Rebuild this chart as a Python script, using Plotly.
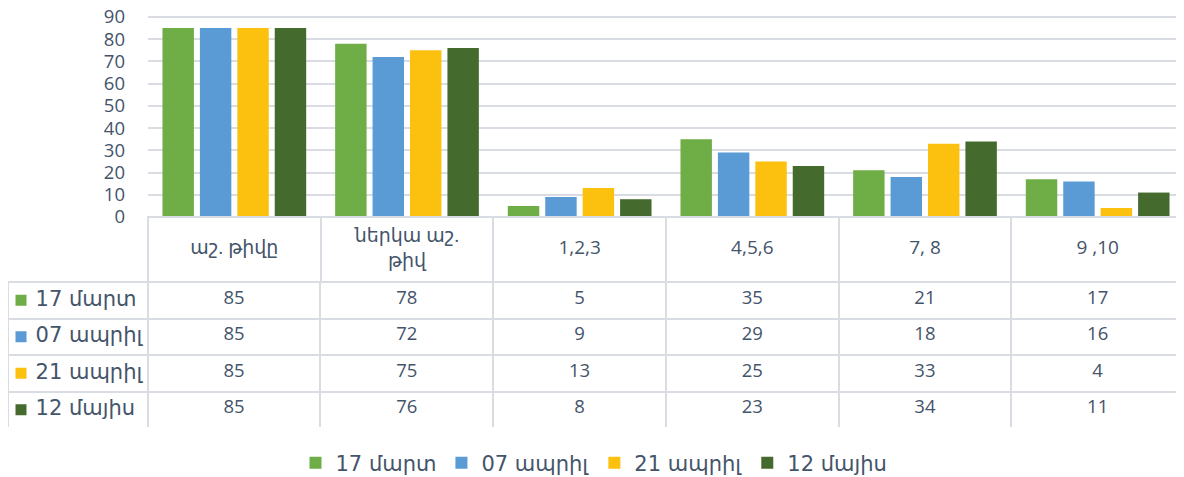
import plotly.graph_objects as go

categories = ["աշ. թիվը", "ներկա աշ.<br>թիվ", "1,2,3", "4,5,6", "7, 8", "9 ,10"]
series_names = ["17 մարտ", "07 ապրիլ", "21 ապրիլ", "12 մայիս"]
mar17 = [85, 78, 5, 35, 21, 17]
apr07 = [85, 72, 9, 29, 18, 16]
apr21 = [85, 75, 13, 25, 33, 4]
may12 = [85, 76, 8, 23, 34, 11]
y_ticks = [0, 10, 20, 30, 40, 50, 60, 70, 80, 90]

colors = ["#6fad46", "#5b9bd5", "#fcc10f", "#456a2e"]
text_color = "#44546a"
grid_color = "#d9dde3"
font_family = "Open Sans, DejaVu Sans, sans-serif"
name_family = "DejaVu Sans, sans-serif"

# page body has an 8px margin, so the figure is 8px smaller than the window
OFF = 8
W, H = 1184 - OFF, 477 - OFF


def px_y(top, bottom):
    # window pixel rows (from top) -> paper domain
    return [(H - (bottom - OFF)) / H, (H - (top - OFF)) / H]


def px_x(left, right):
    return [(left - OFF) / W, (right - OFF) / W]


series = [mar17, apr07, apr21, may12]
cats_x = list(range(len(categories)))

fig = go.Figure()
for name, vals, col in zip(series_names, series, colors):
    fig.add_trace(go.Bar(
        x=cats_x,
        y=vals,
        name=name,
        marker=dict(color=col, line=dict(width=0)),
    ))

cell_font = dict(family=font_family, size=18.5, color=text_color)
name_font = dict(family=name_family, size=21, color=text_color)
cell_line = dict(color=grid_color, width=2)
clear = "rgba(0,0,0,0)"

# header row of the data table: borders only, labels come from a text trace
fig.add_trace(go.Table(
    domain=dict(x=px_x(148, 1184), y=px_y(217, 282)),
    columnwidth=[1] * len(categories),
    header=dict(values=[""] * len(categories), height=65,
                fill_color=clear, line=cell_line, font=cell_font),
))

# category labels, vertically centred in the header row
fig.add_trace(go.Scatter(
    x=cats_x,
    y=[0.5] * len(categories),
    mode="text",
    text=categories,
    textposition="middle center",
    textfont=dict(family=font_family, size=19, color=text_color),
    xaxis="x", yaxis="y3",
    showlegend=False,
    hoverinfo="skip",
))

# body rows: first series sits in the table header slot, styled like a cell
rows = [[""] + vals for vals in series]
fig.add_trace(go.Table(
    domain=dict(x=px_x(8, 1184), y=px_y(282, 428)),
    columnwidth=[140] + [173] * len(categories),
    header=dict(values=rows[0], height=36.5, align="center",
                fill_color=clear, line=cell_line, font=cell_font),
    cells=dict(values=[list(c) for c in zip(*rows[1:])], height=36.5, align="center",
               fill_color=clear, line=cell_line, font=cell_font),
))

# swatches + series names in the first table column
fig.add_trace(go.Scatter(
    x=[21] * len(series_names),
    y=list(range(len(series_names))),
    mode="markers+text",
    text=[" " + n for n in series_names],
    textposition="middle right",
    textfont=name_font,
    marker=dict(symbol="square", size=11, color=colors),
    xaxis="x2", yaxis="y2",
    showlegend=False,
    hoverinfo="skip",
    cliponaxis=False,
))

fig.update_layout(
    width=W,
    height=H,
    margin=dict(l=0, r=0, t=0, b=0, autoexpand=False),
    paper_bgcolor="white",
    plot_bgcolor="white",
    barmode="group",
    bargap=0.133,
    bargroupgap=0.16,
    font=dict(family=font_family, size=18.5, color=text_color),
    xaxis=dict(
        domain=px_x(148, 1184),
        range=[-0.5, len(categories) - 0.5],
        showticklabels=False,
        showgrid=False,
        zeroline=False,
    ),
    yaxis=dict(
        domain=px_y(15.9, 217),
        range=[0, 90.5],
        tickvals=y_ticks,
        showgrid=True,
        gridcolor=grid_color,
        gridwidth=2,
        zeroline=False,
        ticklabelstandoff=22,
        ticklabeloverflow="allow",
        tickfont=dict(size=18.5, color=text_color),
    ),
    yaxis3=dict(
        domain=px_y(217, 282),
        range=[0, 1],
        visible=False,
        fixedrange=True,
    ),
    xaxis2=dict(
        domain=px_x(8, 148),
        range=[8, 148],
        visible=False,
        fixedrange=True,
    ),
    yaxis2=dict(
        domain=px_y(282, 428),
        range=[3.5, -0.5],
        visible=False,
        fixedrange=True,
    ),
    legend=dict(
        orientation="h",
        x=(594 - OFF) / W,
        xanchor="center",
        y=(477 - 463) / H,
        yanchor="middle",
        font=name_font,
        itemwidth=30,
    ),
)

fig.write_html("out.html")
